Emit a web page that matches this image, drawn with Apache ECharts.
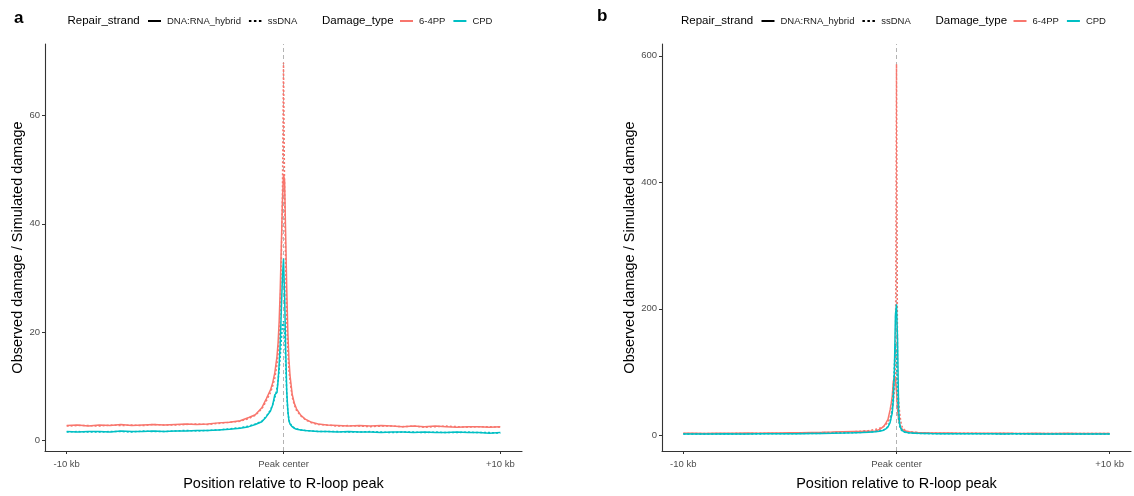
<!DOCTYPE html>
<html>
<head>
<meta charset="utf-8">
<script src="https://cdn.jsdelivr.net/npm/echarts@6/dist/echarts.min.js"></script>
<style>
  html, body { margin: 0; padding: 0; background: #ffffff; }
  #chart { width: 1134px; height: 496px; }
</style>
</head>
<body>
<div id="chart"></div>
<script>
// Bin centres (kb from the R-loop peak centre); finer near the centre where the signal changes fast.
const positionsKb = [
  -10, -9.5, -9, -8.5, -8, -7.5, -7, -6.5, -6, -5.5, -5, -4.5, -4, -3.5, -3, -2.5, -2,
  -1.6, -1.3, -1.0, -0.8, -0.6, -0.5, -0.4, -0.3, -0.25, -0.2, -0.15, -0.1, -0.05,
  0,
  0.05, 0.1, 0.15, 0.2, 0.25, 0.3, 0.4, 0.5, 0.6, 0.8, 1.0, 1.3, 1.6,
  2, 2.5, 3, 3.5, 4, 4.5, 5, 5.5, 6, 6.5, 7, 7.5, 8, 8.5, 9, 9.5, 10
];

// Panel a: observed / simulated damage
const aPP_hybrid = [
  2.7, 2.8, 2.6, 2.8, 2.7, 2.9, 2.7, 2.8, 2.9, 2.8, 2.9, 3.0, 2.9, 3.0, 3.2, 3.3, 3.6,
  4.2, 4.7, 6.0, 7.6, 9.3, 10.6, 12.5, 15.5, 18, 22, 28, 36, 44,
  49.2,
  48, 38, 28, 20, 15, 12, 8.5, 6.8, 5.8, 4.6, 3.9, 3.3, 3.0,
  2.8, 2.7, 2.6, 2.7, 2.6, 2.7, 2.6, 2.5, 2.6, 2.5, 2.6, 2.5, 2.4, 2.5, 2.5, 2.4, 2.5
];
const aPP_ssDNA = [
  2.6, 2.7, 2.7, 2.6, 2.8, 2.7, 2.8, 2.7, 2.9, 2.8, 2.8, 2.9, 3.0, 2.9, 3.1, 3.3, 3.5,
  4.0, 4.6, 5.8, 7.2, 8.8, 10, 11.5, 14, 16, 19, 24, 33, 45,
  69.8,
  46, 32, 22, 16.5, 13, 11, 8, 6.5, 5.5, 4.5, 3.8, 3.2, 2.9,
  2.8, 2.6, 2.7, 2.6, 2.5, 2.6, 2.6, 2.5, 2.6, 2.4, 2.5, 2.6, 2.5, 2.4, 2.5, 2.5, 2.4
];
const aCPD_hybrid = [
  1.6, 1.5, 1.6, 1.6, 1.5, 1.7, 1.6, 1.6, 1.7, 1.6, 1.7, 1.7, 1.8, 1.8, 1.9, 2.0, 2.2,
  2.5, 2.9, 3.4, 4.3, 5.4, 6.5, 8.4, 8.8, 11, 14, 18, 24, 30,
  33.6,
  27, 17, 9, 5.5, 3.6, 3.0, 2.5, 2.2, 2.0, 1.9, 1.8, 1.7, 1.6,
  1.6, 1.5, 1.6, 1.5, 1.5, 1.4, 1.5, 1.5, 1.4, 1.5, 1.4, 1.4, 1.5, 1.4, 1.4, 1.3, 1.4
];
const aCPD_ssDNA = [
  1.5, 1.6, 1.5, 1.5, 1.6, 1.6, 1.5, 1.7, 1.6, 1.6, 1.7, 1.8, 1.7, 1.8, 1.9, 2.1, 2.3,
  2.6, 3.0, 3.5, 4.4, 5.6, 6.6, 7.8, 9.6, 11, 13, 15.5, 18.5, 21.4,
  22,
  20, 14, 8.5, 5.2, 3.8, 3.1, 2.6, 2.3, 2.1, 1.9, 1.8, 1.7, 1.6,
  1.6, 1.6, 1.5, 1.5, 1.6, 1.5, 1.4, 1.5, 1.5, 1.4, 1.5, 1.4, 1.4, 1.5, 1.4, 1.4, 1.3
];

// Panel b: observed / simulated damage
const bPP_hybrid = [
  3.0, 3.2, 2.9, 3.1, 3.3, 3.0, 3.4, 3.2, 3.5, 3.6, 3.8, 4.0, 4.3, 4.6, 5.0, 5.6, 6.0,
  6.2, 6.4, 6.5, 9, 14, 19, 25, 40, 50, 62, 85, 92, 88,
  70,
  40, 25, 17, 12, 10, 8.5, 7, 6, 5.4, 4.8, 4.3, 4.0, 3.7,
  3.5, 3.4, 3.2, 3.3, 3.1, 3.0, 3.2, 3.0, 2.9, 3.1, 2.9, 2.8, 3.0, 2.9, 2.8, 2.9, 2.8
];
const bPP_ssDNA = [
  2.6, 2.8, 2.7, 2.9, 2.8, 3.0, 2.9, 3.1, 3.2, 3.3, 3.4, 3.6, 3.8, 4.1, 4.5, 5.0, 5.7,
  6.5, 7.5, 9, 11, 14, 17, 21, 28, 33, 40, 52, 70, 90,
  587,
  85, 55, 35, 22, 15, 11, 8, 6.5, 5.6, 4.8, 4.2, 3.8, 3.5,
  3.3, 3.1, 3.0, 3.1, 2.9, 2.9, 3.0, 2.8, 2.9, 2.7, 2.8, 2.8, 2.7, 2.8, 2.6, 2.7, 2.7
];
const bCPD_hybrid = [
  2.0, 2.1, 1.9, 2.0, 2.2, 2.0, 2.1, 2.2, 2.3, 2.3, 2.4, 2.5, 2.7, 2.9, 3.1, 3.4, 3.8,
  4.2, 4.8, 5.5, 6.5, 8, 10, 13, 20, 28, 35, 55, 100, 190,
  207,
  150, 40, 18, 11, 8, 6.5, 5, 4.3, 3.8, 3.3, 3.0, 2.8, 2.6,
  2.5, 2.4, 2.3, 2.4, 2.2, 2.3, 2.1, 2.2, 2.2, 2.1, 2.0, 2.1, 2.1, 2.0, 2.1, 1.9, 2.0
];
const bCPD_ssDNA = [
  1.9, 2.0, 2.0, 1.9, 2.1, 2.0, 2.2, 2.1, 2.3, 2.3, 2.5, 2.6, 2.8, 3.0, 3.3, 3.7, 4.0,
  4.5, 5, 5.8, 7, 8.5, 10.5, 14, 22, 30, 42, 70, 110, 145,
  120,
  60, 25, 14, 9, 7, 5.8, 4.6, 4.0, 3.6, 3.2, 2.9, 2.7, 2.5,
  2.4, 2.3, 2.4, 2.2, 2.3, 2.2, 2.1, 2.2, 2.0, 2.1, 2.1, 2.0, 1.9, 2.0, 2.0, 1.9, 1.9
];

// Axis ticks
const xTickValues = [-10, 0, 10];
const xTickLabels = ['-10 kb', 'Peak center', '+10 kb'];
const yTicksA = [0, 20, 40, 60];
const yTicksB = [0, 200, 400, 600];

const COLOR_PP = '#F8766D';
const COLOR_CPD = '#00BFC4';
const FONT = '"Liberation Sans", Arial, sans-serif';
const DOTTED = [2, 2];

const toXY = (vals) => positionsKb.map((x, i) => [x, vals[i]]);

function xAxisFor(gridIndex) {
  return {
    type: 'value', gridIndex, min: -11, max: 11,
    name: 'Position relative to R-loop peak', nameLocation: 'middle', nameGap: 25,
    nameTextStyle: { fontFamily: FONT, fontSize: 14.5, color: '#000' },
    axisLine: { show: true, onZero: false, lineStyle: { color: '#333', width: 1.1 } },
    axisTick: { show: true, length: 3, customValues: xTickValues, lineStyle: { color: '#333', width: 1 } },
    axisLabel: {
      customValues: xTickValues, margin: 8, fontFamily: FONT, fontSize: 9.5, color: '#4D4D4D',
      formatter: (v) => xTickLabels[xTickValues.indexOf(v)]
    },
    splitLine: { show: false }
  };
}
function yAxisFor(gridIndex, min, max, ticks) {
  return {
    type: 'value', gridIndex, min, max,
    name: 'Observed damage / Simulated damage', nameLocation: 'middle', nameGap: 19,
    nameTextStyle: { fontFamily: FONT, fontSize: 14.5, color: '#000' },
    axisLine: { show: true, onZero: false, lineStyle: { color: '#333', width: 1.1 } },
    axisTick: { show: true, length: 3, customValues: ticks, lineStyle: { color: '#333', width: 1 } },
    axisLabel: { customValues: ticks, margin: 5, fontFamily: FONT, fontSize: 9.5, color: '#4D4D4D' },
    splitLine: { show: false }
  };
}
function profile(name, idx, vals, color, dotted, withCenterLine) {
  const s = {
    type: 'line', name, xAxisIndex: idx, yAxisIndex: idx,
    data: toXY(vals), showSymbol: false, symbol: 'none', silent: true,
    lineStyle: { color, width: 1.5, type: dotted ? DOTTED : 'solid', cap: 'butt' },
    itemStyle: { color }, z: 3
  };
  if (withCenterLine) {
    s.markLine = {
      silent: true, symbol: 'none', label: { show: false },
      lineStyle: { color: '#B3B3B3', type: [4, 3], width: 1 },
      data: [{ xAxis: 0 }], z: 1
    };
  }
  return s;
}
function legendKey(name, color, dotted) {
  return { type: 'line', name, data: [], color, xAxisIndex: 0, yAxisIndex: 0,
           itemStyle: { color }, lineStyle: { color, type: dotted ? DOTTED : 'solid' } };
}

const SOLID_ICON = 'path://M0,0H13V2H0Z';
const DOT_ICON = 'path://M0,0H2.5V2H0Z M5,0H7.5V2H5Z M10,0H12.5V2H10Z';
function legendRow(left, items) {
  return {
    left, top: 16, orient: 'horizontal', itemWidth: 13, itemHeight: 2, itemGap: 8,
    selectedMode: false, padding: 0,
    itemStyle: { borderWidth: 0 },
    textStyle: { fontFamily: FONT, fontSize: 9.5, color: '#1A1A1A', padding: [0, 0, 0, 1] },
    data: items
  };
}
const strandItems = [
  { name: 'DNA:RNA_hybrid', icon: SOLID_ICON },
  { name: 'ssDNA', icon: DOT_ICON }
];
const damageItems = [
  { name: '6-4PP', icon: SOLID_ICON },
  { name: 'CPD', icon: SOLID_ICON }
];

const OFFSET_B = 613.5;
function legendTitles(dx) {
  return [
    { type: 'text', left: 67.5 + dx, top: 15, style: { text: 'Repair_strand', font: '11.5px ' + FONT, fill: '#000' } },
    { type: 'text', left: 322 + dx, top: 15, style: { text: 'Damage_type', font: '11.5px ' + FONT, fill: '#000' } }
  ];
}

const chart = echarts.init(document.getElementById('chart'), null, { renderer: 'canvas' });
chart.setOption({
  animation: false,
  backgroundColor: '#ffffff',
  grid: [
    { left: 45, top: 44, width: 477, height: 415, containLabel: false },
    { left: 662, top: 44, width: 469, height: 413, containLabel: false }
  ],
  xAxis: [xAxisFor(0), xAxisFor(1)],
  yAxis: [yAxisFor(0, -2.0, 73.25, yTicksA), yAxisFor(1, -24.9, 618.7, yTicksB)],
  legend: [
    legendRow(148, strandItems),
    legendRow(400, damageItems),
    legendRow(148 + OFFSET_B, strandItems),
    legendRow(400 + OFFSET_B, damageItems)
  ],
  graphic: [
    { type: 'text', left: 14, top: 10, style: { text: 'a', font: 'bold 17px ' + FONT, fill: '#000' } },
    { type: 'text', left: 597, top: 8, style: { text: 'b', font: 'bold 17px ' + FONT, fill: '#000' } },
    ...legendTitles(0),
    ...legendTitles(OFFSET_B)
  ],
  series: [
    profile('6-4PP DNA:RNA_hybrid (a)', 0, aPP_hybrid, COLOR_PP, false, true),
    profile('6-4PP ssDNA (a)', 0, aPP_ssDNA, COLOR_PP, true, false),
    profile('CPD DNA:RNA_hybrid (a)', 0, aCPD_hybrid, COLOR_CPD, false, false),
    profile('CPD ssDNA (a)', 0, aCPD_ssDNA, COLOR_CPD, true, false),
    profile('6-4PP DNA:RNA_hybrid (b)', 1, bPP_hybrid, COLOR_PP, false, true),
    profile('6-4PP ssDNA (b)', 1, bPP_ssDNA, COLOR_PP, true, false),
    profile('CPD DNA:RNA_hybrid (b)', 1, bCPD_hybrid, COLOR_CPD, false, false),
    profile('CPD ssDNA (b)', 1, bCPD_ssDNA, COLOR_CPD, true, false),
    legendKey('DNA:RNA_hybrid', '#000000', false),
    legendKey('ssDNA', '#000000', true),
    legendKey('6-4PP', COLOR_PP, false),
    legendKey('CPD', COLOR_CPD, false)
  ]
});
</script>
</body>
</html>
